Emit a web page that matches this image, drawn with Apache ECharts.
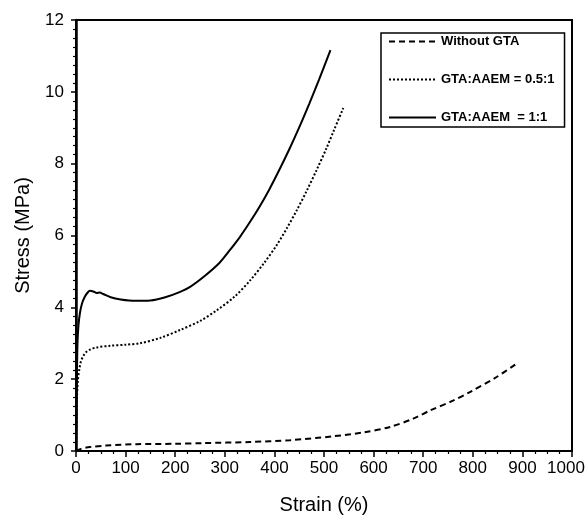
<!DOCTYPE html>
<html style="height: 100%">
<head>
    <meta charset="utf-8">
</head>
<body style="height: 100%; margin: 0">
    <div id="container" style="width: 585px; height: 516px"></div>
    <script src="https://cdn.jsdelivr.net/npm/echarts@6/dist/echarts.min.js"></script>
    <script type="text/javascript">
        // GTA:AAEM = 1:1 (solid)
        const strainSolid = [0, 1, 2, 3, 5, 8, 12, 18, 24, 28, 35, 42, 48, 55, 70, 90, 119, 150, 180, 210, 230, 260, 290, 310, 330, 350, 370, 390, 410, 431, 450, 470, 490, 513];
        const stressSolid = [0, 1.2, 2.2, 3.0, 3.5, 3.85, 4.1, 4.3, 4.42, 4.46, 4.44, 4.40, 4.41, 4.37, 4.28, 4.22, 4.18, 4.19, 4.28, 4.43, 4.57, 4.88, 5.25, 5.59, 5.95, 6.36, 6.80, 7.29, 7.83, 8.43, 9.01, 9.66, 10.34, 11.16];

        // GTA:AAEM = 0.5:1 (dotted)
        const strainDot = [0, 1, 2, 4, 7, 10, 15, 20, 28, 40, 69, 100, 129, 170, 210, 250, 284, 320, 351, 380, 405, 425, 445, 465, 485, 505, 520, 539];
        const stressDot = [0, 0.8, 1.5, 2.0, 2.3, 2.5, 2.65, 2.75, 2.82, 2.88, 2.93, 2.96, 3.0, 3.15, 3.37, 3.62, 3.92, 4.3, 4.75, 5.25, 5.74, 6.2, 6.7, 7.24, 7.82, 8.43, 8.93, 9.55];

        // Without GTA (dashed)
        const strainDash = [0, 10, 28, 60, 122, 200, 256, 350, 431, 519, 580, 633, 680, 714, 760, 794, 848, 888];
        const stressDash = [0, 0.06, 0.11, 0.15, 0.19, 0.2, 0.22, 0.25, 0.3, 0.41, 0.52, 0.67, 0.9, 1.13, 1.4, 1.64, 2.06, 2.43];

        const names = ['Without GTA', 'GTA:AAEM = 0.5:1', 'GTA:AAEM  = 1:1'];

        const font = 'Liberation Sans, Arial, sans-serif';

        const zip = (xs, ys) => xs.map((x, i) => [x, ys[i]]);

        let dom = document.getElementById('container');
        let myChart = echarts.init(dom, null, { renderer: 'canvas' });

        let lineSeries = (name, xs, ys, type) => ({
            name: name,
            type: 'line',
            data: zip(xs, ys),
            symbol: 'none',
            smooth: 0.3,
            lineStyle: { color: '#000', width: 2, type: type },
            itemStyle: { color: '#000' },
            animation: false
        });

        let option = {
            backgroundColor: '#fff',
            textStyle: { fontFamily: font },
            grid: {
                left: 76, right: 13, top: 20, bottom: 65,
                outerBoundsMode: 'none',
                show: true,
                borderColor: '#000',
                borderWidth: 2
            },
            legend: {
                orient: 'vertical',
                left: 381,
                top: 33,
                padding: [2, 10, 3, 7],
                itemWidth: 47,
                itemHeight: 14,
                itemGap: 25,
                borderColor: '#000',
                borderWidth: 1.5,
                backgroundColor: '#fff',
                itemStyle: { color: 'transparent', borderWidth: 0 },
                textStyle: { fontFamily: font, fontSize: 13, fontWeight: 'bold', color: '#000' },
                data: names
            },
            xAxis: {
                type: 'value',
                min: 0, max: 1000, interval: 100,
                name: 'Strain (%)',
                nameLocation: 'middle',
                nameGap: 44,
                nameTextStyle: { fontSize: 20, color: '#000', fontFamily: font },
                axisLine: { lineStyle: { color: '#000', width: 2 } },
                axisTick: { length: 6, lineStyle: { color: '#000', width: 1.5 } },
                minorTick: { show: true, splitNumber: 4, length: 3, lineStyle: { color: '#000', width: 1.2 } },
                splitLine: { show: false },
                axisLabel: {
                    fontSize: 17, color: '#000', margin: 9, fontFamily: font,
                    formatter: v => v === 1000 ? '{a|1000}{s|}' : String(v),
                    rich: {
                        a: { fontSize: 17, color: '#000', fontFamily: font },
                        s: { width: 12 }
                    }
                }
            },
            yAxis: {
                type: 'value',
                min: 0, max: 12, interval: 2,
                name: 'Stress (MPa)',
                nameLocation: 'middle',
                nameRotate: 90,
                nameGap: 43,
                nameTextStyle: { fontSize: 20, color: '#000', fontFamily: font },
                axisLine: { lineStyle: { color: '#000', width: 2.5 } },
                axisTick: { length: 5, lineStyle: { color: '#000', width: 1.5 } },
                minorTick: { show: true, splitNumber: 8, length: 3, lineStyle: { color: '#000', width: 1.2 } },
                splitLine: { show: false },
                axisLabel: { fontSize: 17, color: '#000', margin: 12, fontFamily: font }
            },
            series: [
                lineSeries(names[0], strainDash, stressDash, [6, 4]),
                lineSeries(names[1], strainDot, stressDot, [2, 2]),
                lineSeries(names[2], strainSolid, stressSolid, 'solid')
            ]
        };

        myChart.setOption(option);
    </script>
</body>
</html>
